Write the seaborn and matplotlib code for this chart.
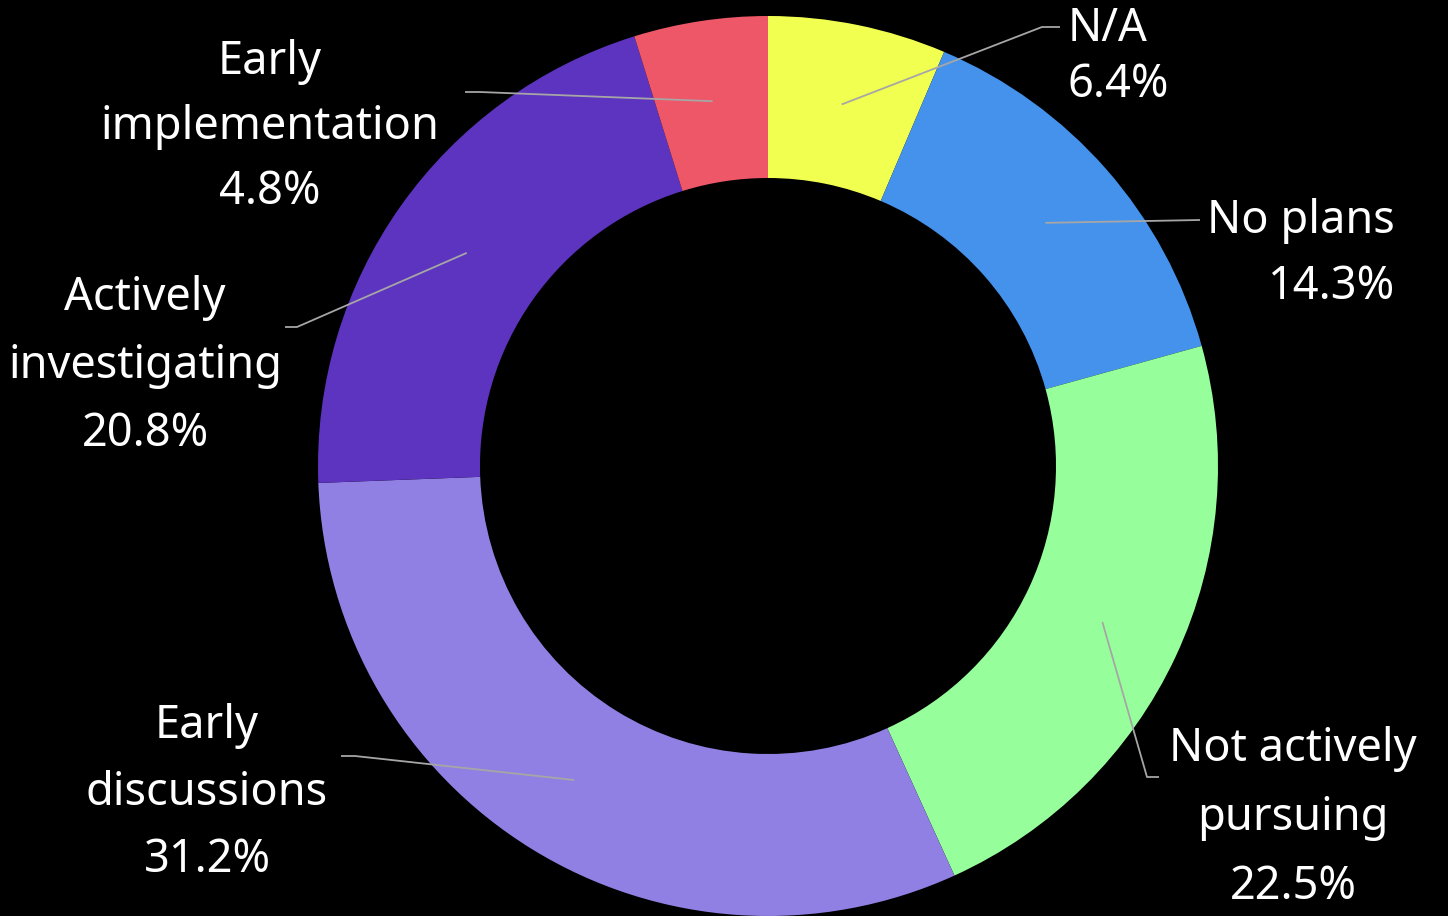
import matplotlib
matplotlib.use("Agg")
import matplotlib.pyplot as plt
import seaborn as sns
import numpy as np

# ---- data ----
categories = ["N/A", "No plans", "Not actively\npursuing", "Early\ndiscussions",
              "Actively\ninvestigating", "Early\nimplementation"]
values = [6.4, 14.3, 22.5, 31.2, 20.8, 4.8]
colors = ["#F1FF50", "#4592EC", "#96FF9B", "#9180E3", "#5D34BF", "#EE5767"]

# ---- layout (pixel positions in the 1448x916 canvas) ----
W, H = 1448, 916
CX, CY, R = 768, 466, 450
label_px = [(1068, 57), (1395, 254), (1293, 818), (207, 793), (145, 366), (270, 127)]
label_ha = ["left", "right", "center", "center", "center", "center"]
label_ls = [1.3, 1.55, 1.65, 1.6, 1.62, 1.55]
elbow_px = [[(1042, 27), (1060, 27)],
            [(1200, 220)],
            [(1147, 777), (1159, 777)],
            [(355, 756), (341, 756)],
            [(297, 327), (285, 327)],
            [(480, 92), (465, 92)]]


def px2d(x, y):
    return (x - CX) / R, (CY - y) / R


sns.set_theme(style="dark")
plt.rcParams["font.family"] = ["Noto Sans", "DejaVu Sans"]

fig = plt.figure(figsize=(W / 100, H / 100), dpi=100, facecolor="black")
ax = fig.add_axes([0, 0, 1, 1])
ax.set_facecolor("black")

wedges, _ = ax.pie(values, colors=sns.color_palette(colors), startangle=90,
                   counterclock=False, radius=1.0,
                   wedgeprops=dict(width=0.36, linewidth=0))

ax.set_xlim(-CX / R, (W - CX) / R)
ax.set_ylim((CY - H) / R, CY / R)
ax.set_aspect("equal")
ax.axis("off")

total = sum(values)
cum = 0.0
ring_mid = 1.0 - 0.36 / 2
for i, (cat, v) in enumerate(zip(categories, values)):
    mid = 90 - (cum + v / 2) / total * 360
    cum += v
    ax0 = ring_mid * np.cos(np.radians(mid))
    ay0 = ring_mid * np.sin(np.radians(mid))
    pts = [(ax0, ay0)] + [px2d(*p) for p in elbow_px[i]]
    xs, ys = zip(*pts)
    ax.plot(xs, ys, color="#A6A6A6", lw=1.3, solid_capstyle="butt")
    tx, ty = px2d(*label_px[i])
    ax.text(tx, ty, f"{cat}\n{v:.1f}%", color="white", fontsize=32.5,
            fontweight="light",
            ha=label_ha[i], va="center", multialignment=label_ha[i],
            linespacing=label_ls[i])

fig.savefig("out.png", dpi=100, facecolor="black")
